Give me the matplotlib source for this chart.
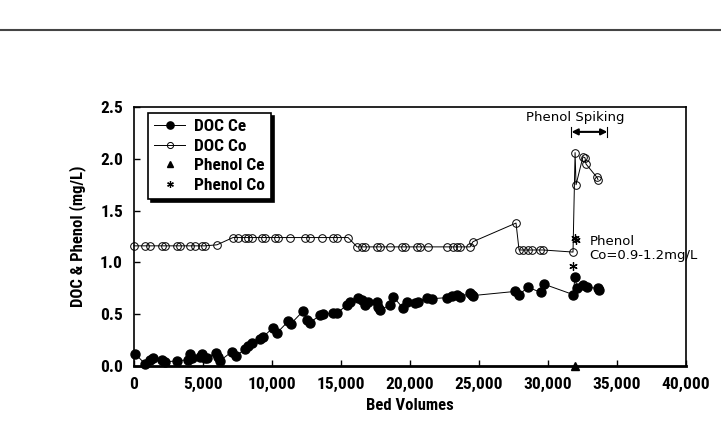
import matplotlib.pyplot as plt
from matplotlib.lines import Line2D
from matplotlib.ticker import FuncFormatter

# DOC effluent (Ce)
doc_ce_x = [70, 800, 1160, 1380, 2030, 2250, 3120, 3910, 4060, 4200, 4780, 4930,
            5140, 5290, 5940, 6090, 6230, 7100, 7390, 8040, 8260, 8550, 9130, 9350,
            10070, 10360, 11160, 11380, 12250, 12540, 12750, 13480, 13690, 14420,
            14710, 15430, 15650, 16230, 16520, 16740, 16960, 17610, 17680, 17830,
            18550, 18770, 19490, 19780, 20360, 20580, 21230, 21590, 22680, 23040,
            23400, 23620, 24350, 24490, 24560, 27610, 27900, 28550, 29490, 29710,
            31810, 31960, 32100, 32530, 32820, 33620, 33690]
doc_ce_y = [0.12, 0.02, 0.06, 0.08, 0.06, 0.04, 0.05, 0.06, 0.12, 0.08, 0.09, 0.12,
            0.08, 0.08, 0.13, 0.09, 0.05, 0.14, 0.10, 0.16, 0.19, 0.22, 0.26, 0.28,
            0.37, 0.32, 0.43, 0.41, 0.53, 0.44, 0.42, 0.49, 0.50, 0.51,
            0.51, 0.59, 0.62, 0.66, 0.64, 0.59, 0.62, 0.62, 0.57, 0.54,
            0.59, 0.67, 0.56, 0.62, 0.61, 0.62, 0.66, 0.65, 0.66, 0.68,
            0.69, 0.67, 0.70, 0.69, 0.68, 0.72, 0.69, 0.76, 0.71, 0.79,
            0.69, 0.86, 0.75, 0.78, 0.76, 0.75, 0.73]

# DOC influent (Co)
doc_co_x = [0, 800, 1160, 2030, 2250, 3120, 3330, 4060, 4420, 4930, 5140, 6010,
            7170, 7540, 8040, 8260, 8550, 9270, 9490, 10220, 10430, 11300, 12390,
            12750, 13620, 14420, 14710, 15510,
            16160, 16520, 16740, 17610, 17830, 18550, 19420, 19640, 20510, 20720,
            21300, 22680, 23110, 23400, 23620, 24350,
            24560, 27680, 27900, 28190, 28550, 28840, 29420, 29640, 31810,
            31960, 32030, 32530, 32680, 32750, 33550, 33620]
doc_co_y = [1.16, 1.16, 1.16, 1.16, 1.16, 1.16, 1.16, 1.16, 1.16, 1.16, 1.16, 1.17,
            1.24, 1.24, 1.24, 1.24, 1.24, 1.24, 1.24, 1.24, 1.24, 1.24, 1.24,
            1.24, 1.24, 1.24, 1.24, 1.24,
            1.15, 1.15, 1.15, 1.15, 1.15, 1.15, 1.15, 1.15, 1.15, 1.15,
            1.15, 1.15, 1.15, 1.15, 1.15, 1.15,
            1.20, 1.38, 1.12, 1.12, 1.12, 1.12, 1.12, 1.12, 1.10,
            2.06, 1.75, 2.02, 2.01, 1.95, 1.82, 1.80]

phenol_ce_x = [31960]
phenol_ce_y = [0.0]
phenol_co_x = [31810, 31960, 32000]
phenol_co_y = [0.97, 1.24, 1.22]

narrow = ['Liberation Sans Narrow', 'Roboto Condensed', 'Roboto', 'DejaVu Sans']
bold_font = dict(family=narrow, weight='bold')

fig = plt.figure(figsize=(7.21, 4.30), dpi=100)
ax = fig.add_axes([0.1859, 0.1488, 0.7656, 0.6023])

ax.plot(doc_ce_x, doc_ce_y, '-o', color='black', lw=0.7, ms=6.5,
        mfc='black', mec='black', label='DOC Ce', clip_on=False, zorder=3)
ax.plot(doc_co_x, doc_co_y, '-o', color='black', lw=0.7, ms=5.5,
        mfc='none', mec='black', mew=0.7, label='DOC Co', clip_on=False, zorder=3)
ax.plot(phenol_ce_x, phenol_ce_y, '^', color='black', ms=6,
        label='Phenol Ce', clip_on=False, zorder=4)
ax.plot(phenol_co_x, phenol_co_y, marker=(6, 2, 0), ls='none', color='black',
        ms=6, mew=0.9, label='Phenol Co', clip_on=False, zorder=4)

ax.set_xlim(0, 40000)
ax.set_ylim(0, 2.5)
ax.set_xticks(range(0, 40001, 5000))
ax.set_yticks([0, 0.5, 1.0, 1.5, 2.0, 2.5])
ax.xaxis.set_major_formatter(FuncFormatter(lambda v, p: f'{int(v):,}'))
ax.yaxis.set_major_formatter(FuncFormatter(lambda v, p: f'{v:.1f}'))
ax.tick_params(direction='in', length=4, width=1, pad=8, labelsize=12.5)
for lab in ax.get_xticklabels() + ax.get_yticklabels():
    lab.set_fontfamily(narrow)
    lab.set_fontweight('bold')
for s in ax.spines.values():
    s.set_linewidth(1.2)
ax.spines['bottom'].set_linewidth(2)

ax.set_xlabel('Bed Volumes', fontsize=12, labelpad=4, **bold_font)
ax.set_ylabel('DOC & Phenol (mg/L)', fontsize=12, labelpad=10, **bold_font)

leg = ax.legend(loc='upper left', bbox_to_anchor=(0.025, 0.977), fancybox=False,
                shadow={'color': 'black', 'alpha': 1}, edgecolor='black',
                framealpha=1, handlelength=1.8, handletextpad=0.5,
                labelspacing=0.25, borderpad=0.35, borderaxespad=0,
                markerscale=0.8,
                prop=dict(family=narrow, size=12.5, weight='bold'))
leg.get_frame().set_linewidth(1.2)

# phenol spiking marker
ax.annotate('', xy=(31700, 2.26), xytext=(34300, 2.26),
            arrowprops=dict(arrowstyle='<|-|>', color='black', lw=1.5,
                            mutation_scale=9, shrinkA=0, shrinkB=0))
ax.plot([31700, 31700], [2.21, 2.31], color='black', lw=0.8)
ax.plot([34300, 34300], [2.21, 2.31], color='black', lw=0.8)
ax.text(32000, 2.40, 'Phenol Spiking', ha='center', va='center', fontsize=9.5)
ax.text(33000, 1.13, 'Phenol\nCo=0.9-1.2mg/L', ha='left', va='center',
        fontsize=9.5, linespacing=1.1)

fig.add_artist(Line2D([0, 1], [0.930, 0.930], color='#444444', lw=1.5))

fig.savefig('out.png', dpi=100)
